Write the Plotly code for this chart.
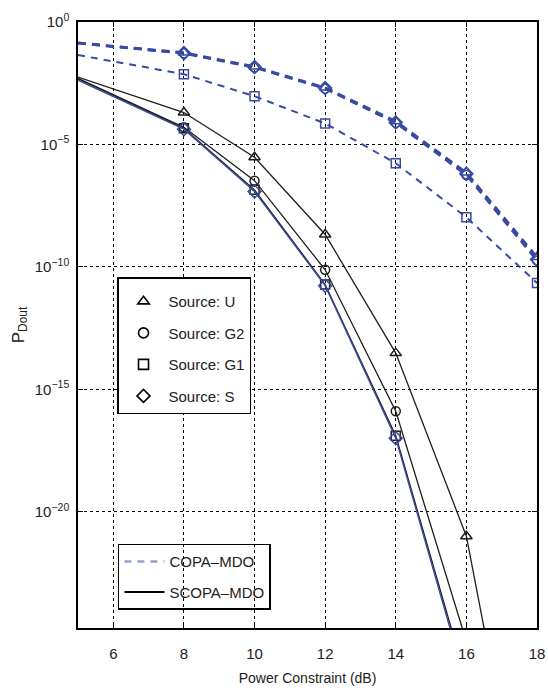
import plotly.graph_objects as go

# ---------------- data ----------------
power_db = [5, 8, 10, 12, 14, 16, 18]          # x values (dB)
marker_db = [8, 10, 12, 14, 16, 18]            # where markers are drawn

# COPA-MDO (dashed, blue)
copa_U  = [1.41e-1, 5.62e-2, 1.51e-2, 2.1e-3, 8.9e-5, 7.1e-7, 2.5e-10]
copa_G2 = [1.35e-1, 5.25e-2, 1.38e-2, 1.9e-3, 7.6e-5, 5.6e-7, 1.8e-10]
copa_G1 = [4.47e-2, 7.4e-3, 9.3e-4, 7.2e-5, 1.7e-6, 1.05e-8, 2.2e-11]
copa_S  = [1.38e-1, 5.37e-2, 1.45e-2, 2.0e-3, 7.9e-5, 6.3e-7, 2.0e-10]

# SCOPA-MDO (solid)
scopa_U  = [5.6e-3, 2.0e-4, 3.0e-6, 2.1e-9, 3.0e-14, 1.0e-21, 1e-36]
scopa_G2 = [5.0e-3, 5.0e-5, 3.3e-7, 7.6e-11, 1.26e-16, 5e-26, 1e-40]
scopa_G1 = [4.8e-3, 4.6e-5, 1.4e-7, 1.9e-11, 1.26e-17, 1.26e-27, 1e-42]
scopa_S  = [4.2e-3, 4.2e-5, 1.2e-7, 1.7e-11, 1.0e-17, 8e-28, 1e-43]

x_ticks = [6, 8, 10, 12, 14, 16, 18]
y_tickvals = [1, 1e-5, 1e-10, 1e-15, 1e-20]
y_ticktext = ["10<sup>0</sup>", "10<sup>−5</sup>", "10<sup>−10</sup>",
              "10<sup>−15</sup>", "10<sup>−20</sup>"]

source_names = ["Source: U", "Source: G2", "Source: G1", "Source: S"]
source_symbols = ["triangle-up-open", "circle-open", "square-open", "diamond-open"]
scheme_names = ["COPA–MDO", "SCOPA–MDO"]

# ---------------- style ----------------
BLUE = "rgb(55,75,160)"
BLACK = "rgb(30,30,30)"
FONT = "Liberation Sans, Arial, sans-serif"

fig = go.Figure()

def add_series(y, color, width, dash, symbol, msize=9):
    fig.add_trace(go.Scatter(x=power_db, y=y, mode="lines",
                             line=dict(color=color, width=width, dash=dash),
                             showlegend=False, hoverinfo="skip"))
    fig.add_trace(go.Scatter(x=marker_db, y=y[1:], mode="markers",
                             marker=dict(symbol=symbol, size=msize, color=color,
                                         line=dict(color=color, width=1.5)),
                             showlegend=False, hoverinfo="skip"))

# COPA dashed
add_series(copa_G1, BLUE, 2, "7px,6px", "square-open")
add_series(copa_U, BLUE, 2.5, "8px,6px", "triangle-up-open", 10)
add_series(copa_G2, BLUE, 2.5, "8px,6px", "circle-open")
add_series(copa_S, BLUE, 2.5, "8px,6px", "diamond-open", 10)

# SCOPA solid
add_series(scopa_G1, BLACK, 1.3, "solid", "square-open")
add_series(scopa_U, BLACK, 1.3, "solid", "triangle-up-open", 10)
add_series(scopa_G2, BLACK, 1.3, "solid", "circle-open")
add_series(scopa_S, BLUE, 1.4, "solid", "diamond-open", 10)

# legend 1 : markers
for i, (name, sym) in enumerate(zip(source_names, source_symbols)):
    fig.add_trace(go.Scatter(x=[None], y=[None], mode="markers", name=name,
                             marker=dict(symbol=sym, size=10, color="black",
                                         line=dict(color="black", width=1.6)),
                             legend="legend", legendgroup="s%d" % i))
# legend 2 : line styles
fig.add_trace(go.Scatter(x=[None], y=[None], mode="lines", name=scheme_names[0],
                         line=dict(color="rgb(150,160,205)", width=2.5, dash="7px,6px"),
                         legend="legend2", legendgroup="c0"))
fig.add_trace(go.Scatter(x=[None], y=[None], mode="lines", name=scheme_names[1],
                         line=dict(color="black", width=2),
                         legend="legend2", legendgroup="c1"))

axis_common = dict(showline=True, linecolor="black", linewidth=1.5, mirror="ticks",
                   ticks="inside", ticklen=5, tickcolor="black", automargin=False,
                   showgrid=True, gridcolor="black", gridwidth=1, griddash="dot",
                   zeroline=False, tickfont=dict(family=FONT, size=15, color="#222"))

fig.update_xaxes(range=[5, 18], tickvals=x_ticks, ticklabelstandoff=11,
                 title=dict(text="Power Constraint (dB)",
                            font=dict(family=FONT, size=14, color="#222"), standoff=12),
                 **axis_common)
fig.update_yaxes(type="log", range=[-24.75, 0], tickvals=y_tickvals, ticktext=y_ticktext,
                 ticklabelstandoff=4,
                 title=dict(text="P<sub>Dout</sub>",
                            font=dict(family=FONT, size=17, color="#222"), standoff=6),
                 **axis_common)

fig.update_layout(
    width=548, height=691,
    margin=dict(l=78, r=11, t=22, b=63),
    paper_bgcolor="white", plot_bgcolor="white",
    font=dict(family=FONT, color="#222"),
    legend=dict(x=0.085, y=0.579, xanchor="left", yanchor="top",
                bgcolor="white", bordercolor="black", borderwidth=1.5,
                font=dict(family=FONT, size=15, color="#222"),
                title=dict(text=" ", font=dict(size=5)),
                traceorder="grouped", tracegroupgap=9, itemwidth=40),
    legend2=dict(x=0.087, y=0.03, xanchor="left", yanchor="bottom",
                 bgcolor="rgba(0,0,0,0)", bordercolor="black", borderwidth=1.5,
                 font=dict(family=FONT, size=15, color="#222"),
                 traceorder="grouped", tracegroupgap=8, itemwidth=40),
)

fig.write_html("out.html")
